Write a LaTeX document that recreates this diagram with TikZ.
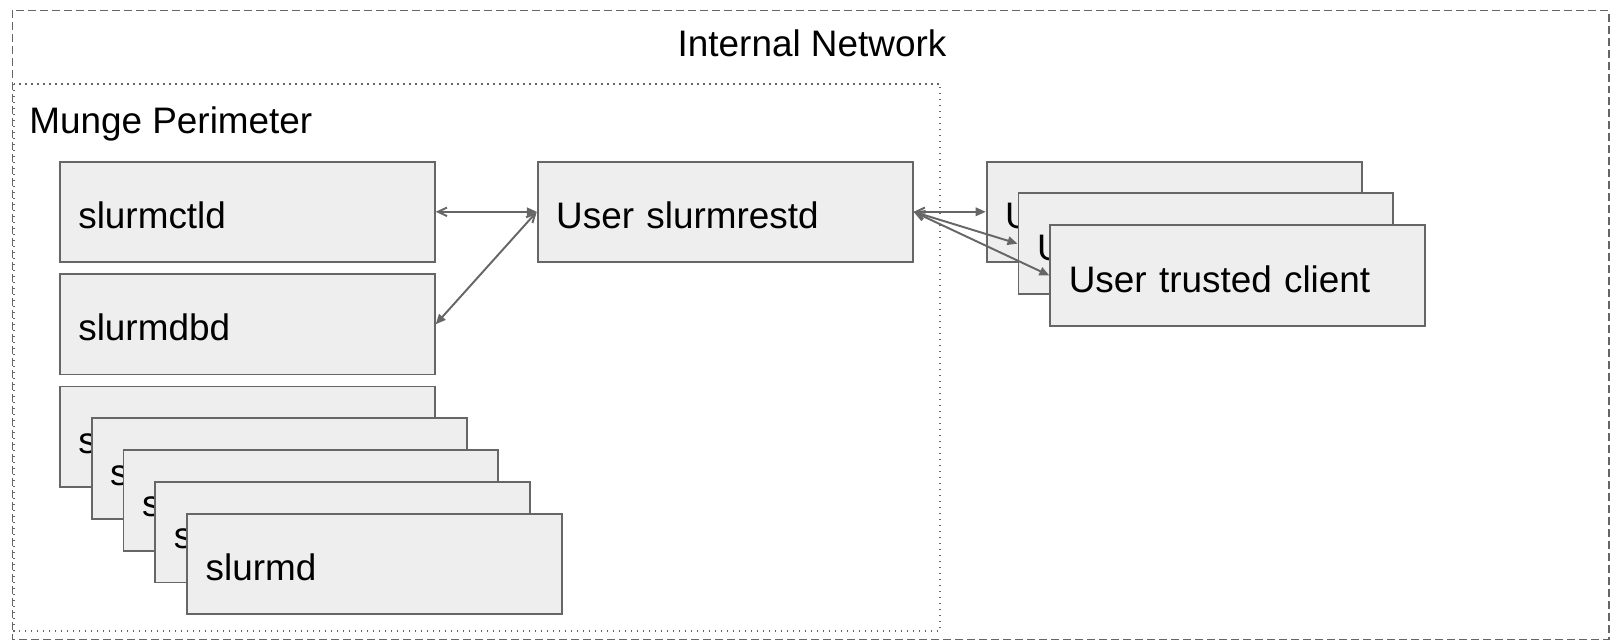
\documentclass[tikz,border=0pt]{standalone}
\usepackage{fontspec}
\setmainfont{Liberation Sans}
\usetikzlibrary{positioning,arrows.meta}
\definecolor{boxfill}{HTML}{EEEEEE}
\definecolor{boxline}{HTML}{666666}

\begin{document}
\begin{tikzpicture}[x=0.02cm,y=-0.02cm,auto,node distance=2.25cm,
        main node/.style={rectangle,draw=boxline,fill=boxfill,line width=1.1pt,minimum width=7.5cm,minimum height=2.01cm,inner xsep=0.37cm,text width=6.76cm,text height=18.8pt,text depth=0pt,align=left,font=\fontsize{21}{25}\selectfont},
        zone text/.style={inner sep=0pt,font=\fontsize{21}{25}\selectfont},
        link/.style={{Straight Barb[length=0.18cm,width=0.17cm]}-{Triangle[length=0.2cm,width=0.17cm]},color=boxline,line width=1.1pt}]

    \useasboundingbox (0,0) rectangle (1612,642);

    % the two zones
    \draw[boxline,line width=0.8pt,dash pattern=on 0.16cm off 0.08cm] (12.5,10.5) rectangle (1609,639.5);
    \draw[boxline,line width=0.8pt,dash pattern=on 0.03cm off 0.09cm] (14,84) rectangle (940,631);
    \node[zone text,anchor=base] (net) at (812,56.5) {Internal Network};
    \node[zone text,anchor=base west] (munge) at (29,133.5) {Munge Perimeter};

    \node[main node] (ctld) at (247.3,211.8) {slurmctld};
    \node[main node] (dbd) [below of=ctld] {slurmdbd};
    \node[main node] (d1) [below of=dbd] {slurmd};
    \node[main node] (d2) [below of=d1,node distance=0.637cm,xshift=0.637cm] {slurmd};
    \node[main node] (d3) [below of=d2,node distance=0.637cm,xshift=0.637cm] {slurmd};
    \node[main node] (d4) [below of=d3,node distance=0.637cm,xshift=0.637cm] {slurmd};
    \node[main node] (d5) [below of=d4,node distance=0.637cm,xshift=0.637cm] {slurmd};

    \node[main node] (rest) [right of=ctld,node distance=9.56cm] {User slurmrestd};

    \node[main node] (c1) [right of=rest,node distance=8.98cm] {User trusted client};
    \node[main node] (c2) [below of=c1,node distance=0.637cm,xshift=0.637cm] {User trusted client};
    \node[main node] (c3) [below of=c2,node distance=0.637cm,xshift=0.637cm] {User trusted client};

    \path[link]
    (ctld) edge (rest)
    (rest.west) edge (dbd.east)
    (rest) edge (c1)
    (rest.east) edge (c2.west)
    (rest.east) edge (c3.west)
    ;

\end{tikzpicture}
\end{document}
